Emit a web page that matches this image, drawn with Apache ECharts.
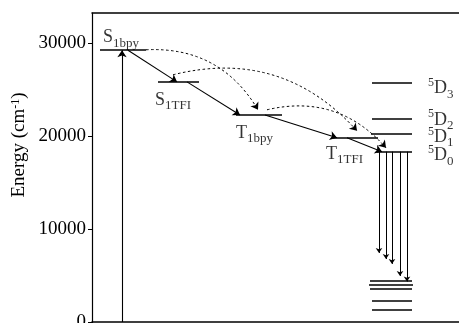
<!DOCTYPE html>
<html><head><meta charset="utf-8">
<script src="https://cdn.jsdelivr.net/npm/echarts@6/dist/echarts.min.js"></script>
<style>html,body{margin:0;padding:0;background:#fff}#c{width:459px;height:323px}</style>
</head><body><div id="c"></div>
<script>
// Energy levels (cm^-1) and their horizontal extent (schematic x units)
const levelNames = ['S1bpy','S1TFI','T1bpy','T1TFI','5D3','5D2','5D1','5D0','7F6','7F5','7F4','7F3','7F2'];
const levelEnergy = [29200, 25800, 22250, 19800, 25700, 21800, 20200, 18300, 4450, 4000, 3550, 2260, 1290];
const levelStart = [8, 66, 144, 241, 280, 280, 279, 285, 278, 277, 278, 280, 280];
const levelEnd   = [54, 107, 190, 286, 320, 320, 320, 320, 320, 321, 320, 320, 320];

// excitation arrow
const excX = 30, excFrom = 0, excTo = 29200;

// solid transfer arrows [x, E]
const transferFrom = [[36, 29200], [95, 25800], [173, 22250], [255, 19800]];
const transferTo   = [[85, 25800], [148, 22250], [245, 19800], [290, 18300]];

// dashed curved transfers
const dashFrom = [[54, 29250], [81, 26560], [175, 22800]];
const dashTo   = [[166, 22800], [265, 20540], [294, 18710]];

// emissions from 5D0
const emisX = [287, 294, 300, 308, 315];
const emisTo = [7420, 6770, 6240, 4950, 4350];
const emisFrom = 18300;

// text labels
const labelText = ['S1bpy','S1TFI','T1bpy','T1TFI','5D3','5D2','5D1','5D0'];
const labelX = [11, 63, 144, 234, 336, 336, 336, 336];
const labelE = [30450, 23750, 20200, 17950, 24970, 21620, 19720, 17770];

const yTicks = [0, 10000, 20000, 30000];

const chart = echarts.init(document.getElementById('c'));
const F = 'Liberation Serif';

function richLabel(t) {
  if (t[0] === '5') return '{sup|5}{m|D}{sub|' + t.slice(2) + '}';
  return '{m|' + t[0] + '}{sub|' + t.slice(1) + '}';
}

const levelLines = levelNames.map((n, i) => ({coords: [[levelStart[i], levelEnergy[i]], [levelEnd[i], levelEnergy[i]]]}));
const solidArrows = transferFrom.map((f, i) => ({coords: [f, transferTo[i]]}));
solidArrows.push({coords: [[excX, excFrom], [excX, excTo]]});
const dashArrows = dashFrom.map((f, i) => ({coords: [f, dashTo[i]]}));
const emisArrows = emisX.map((x, i) => ({coords: [[x, emisFrom], [x, emisTo[i]]]}));

chart.setOption({
  animation: false,
  grid: {left: 92, top: 13, right: 0, bottom: -19, outerBoundsMode: 'none', containLabel: false},
  xAxis: [
    {type: 'value', min: 0, max: 367, position: 'bottom', axisLine: {show: true, onZero: true, lineStyle: {color: '#000', width: 1.5}},
     axisTick: {show: false}, axisLabel: {show: false}, splitLine: {show: false}},
    {type: 'value', min: 0, max: 367, position: 'top', axisLine: {show: true, onZero: false, lineStyle: {color: '#000', width: 1.5}},
     axisTick: {show: false}, axisLabel: {show: false}, splitLine: {show: false}}
  ],
  yAxis: {
    type: 'value', min: -2150, max: 33200,
    axisLine: {show: true, lineStyle: {color: '#000', width: 1.2}},
    axisTick: {show: true, length: 4, customValues: yTicks, lineStyle: {color: '#000'}},
    splitLine: {show: false},
    axisLabel: {margin: 6, color: '#000', fontFamily: F, fontSize: 19, customValues: yTicks,
      formatter: v => '{t|' + v + '}',
      rich: {t: {fontFamily: F, fontSize: 19, color: '#000'}}}
  },
  graphic: [{
    type: 'text', x: 19, y: 145, rotation: Math.PI / 2,
    style: {text: '{a|Energy (cm}{s|-1}{a|)}', align: 'center', verticalAlign: 'middle',
      rich: {a: {fontFamily: F, fontSize: 19, fill: '#000'}, s: {fontFamily: F, fontSize: 12, fill: '#000', verticalAlign: 'top', padding: [0, 0, 6, 0]}}}
  }],
  series: [
    {type: 'lines', coordinateSystem: 'cartesian2d', data: levelLines, symbol: 'none',
     lineStyle: {color: '#000', width: 1.5, opacity: 1}, silent: true, z: 2},
    {type: 'lines', coordinateSystem: 'cartesian2d', data: solidArrows, symbol: ['none', 'arrow'], symbolSize: [0, 7],
     lineStyle: {color: '#000', width: 1.1, opacity: 1}, silent: true, z: 3},
    {type: 'lines', coordinateSystem: 'cartesian2d', data: dashArrows, symbol: ['none', 'arrow'], symbolSize: [0, 7],
     lineStyle: {color: '#000', width: 1, type: [2.5, 2.5], curveness: 0.3, opacity: 1}, silent: true, z: 3},
    {type: 'lines', coordinateSystem: 'cartesian2d', data: emisArrows, symbol: ['none', 'arrow'], symbolSize: [0, 5],
     lineStyle: {color: '#000', width: 1, opacity: 1}, silent: true, z: 3},
    {type: 'scatter', symbolSize: 0, silent: true, z: 4,
     data: labelText.map((t, i) => ({value: [labelX[i], labelE[i]], name: t})),
     label: {show: true, position: 'right', distance: 0, color: '#000', fontFamily: F,
       formatter: p => richLabel(p.name),
       rich: {
         m: {fontFamily: F, fontSize: 18, color: '#000', verticalAlign: 'top', lineHeight: 26, padding: [3, 0, 0, 0]},
         sub: {fontFamily: F, fontSize: 13, color: '#000', verticalAlign: 'top', lineHeight: 26, padding: [11, 0, 0, 0]},
         sup: {fontFamily: F, fontSize: 12, color: '#000', verticalAlign: 'top', lineHeight: 26, padding: [0, 0, 0, 0]}
       }}}
  ]
});
</script></body></html>
